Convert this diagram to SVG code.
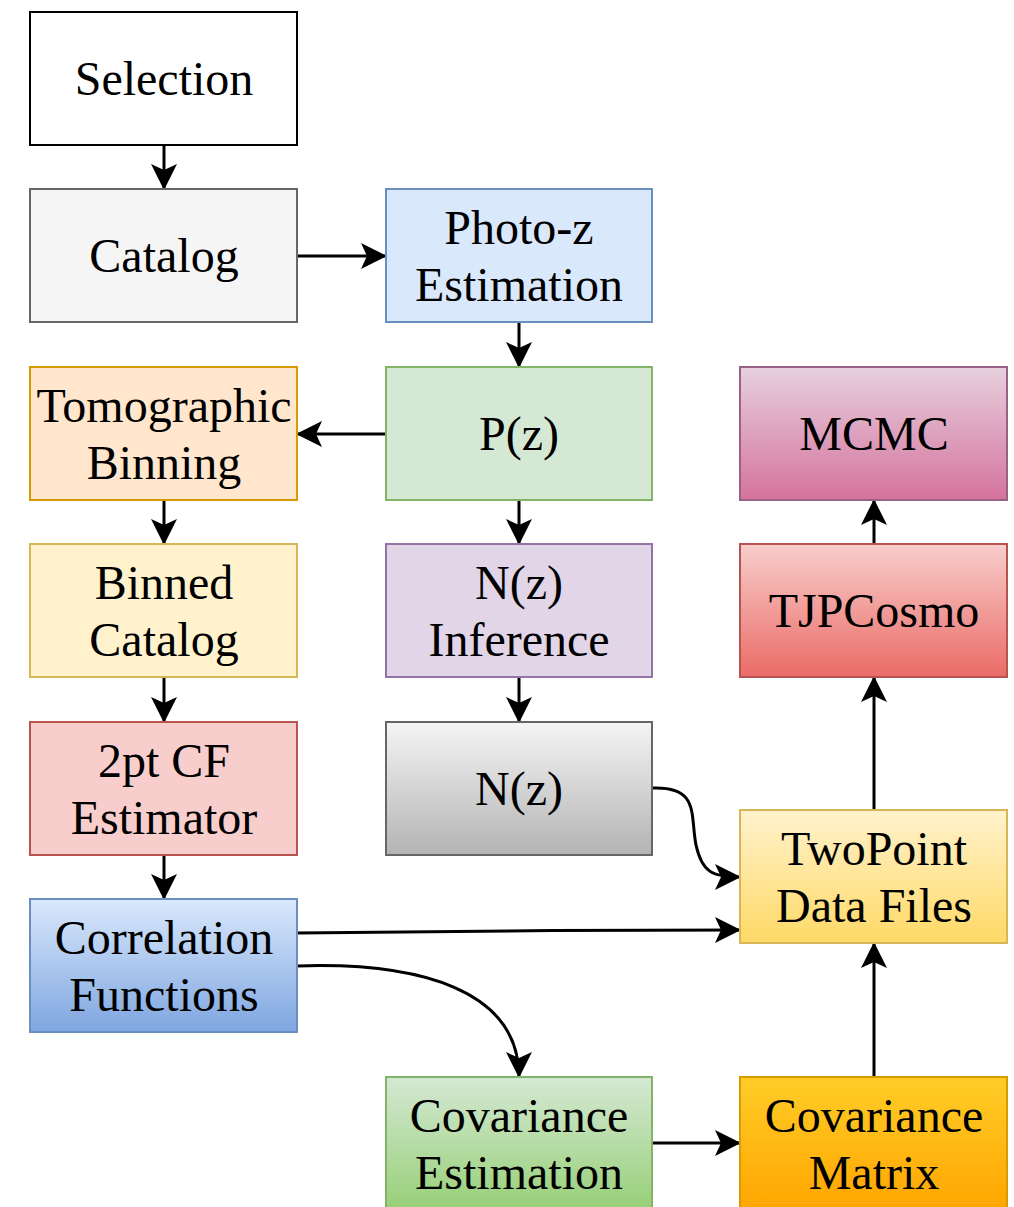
<svg xmlns="http://www.w3.org/2000/svg" width="1014" height="1207" viewBox="0 0 1014 1207">
<style>
  .n rect { stroke-width: 2; }
  .n text { font-family: "Liberation Serif", "Times New Roman", serif; font-size: 48px; fill: #000; text-anchor: middle; }
  .c path { fill: none; stroke: #000; stroke-width: 3; marker-end: url(#arr); }
</style>
<defs>
  <marker id="arr" markerUnits="userSpaceOnUse" markerWidth="26" markerHeight="28" refX="25" refY="14" orient="auto" overflow="visible">
    <path d="M0,1 L26,14 L0,27 L6,14 z" fill="#000"/>
  </marker>
  <linearGradient id="gGrey" x1="0" y1="0" x2="0" y2="1"><stop offset="0" stop-color="#f5f5f5"/><stop offset="1" stop-color="#b3b3b3"/></linearGradient>
  <linearGradient id="gBlue" x1="0" y1="0" x2="0" y2="1"><stop offset="0" stop-color="#dae8fc"/><stop offset="1" stop-color="#7ea6e0"/></linearGradient>
  <linearGradient id="gGreen" x1="0" y1="0" x2="0" y2="1"><stop offset="0" stop-color="#d5e8d4"/><stop offset="1" stop-color="#97d077"/></linearGradient>
  <linearGradient id="gOrange" x1="0" y1="0" x2="0" y2="1"><stop offset="0" stop-color="#ffcd28"/><stop offset="1" stop-color="#ffa500"/></linearGradient>
  <linearGradient id="gYellow" x1="0" y1="0" x2="0" y2="1"><stop offset="0" stop-color="#fff2cc"/><stop offset="1" stop-color="#ffd966"/></linearGradient>
  <linearGradient id="gRed" x1="0" y1="0" x2="0" y2="1"><stop offset="0" stop-color="#f8cecc"/><stop offset="1" stop-color="#ea6b66"/></linearGradient>
  <linearGradient id="gPink" x1="0" y1="0" x2="0" y2="1"><stop offset="0" stop-color="#e6d0de"/><stop offset="1" stop-color="#d5739d"/></linearGradient>
</defs>
<rect width="1014" height="1207" fill="#fff"/>

<g class="c" id="connectors">
  <path d="M164,145 L164,189"/>
  <path d="M297,256 L386,256"/>
  <path d="M519,322 L519,367"/>
  <path d="M386,434 L297,434"/>
  <path d="M164,500 L164,544"/>
  <path d="M519,500 L519,544"/>
  <path d="M164,677 L164,722"/>
  <path d="M519,677 L519,722"/>
  <path d="M164,855 L164,899"/>
  <path d="M652,788 C700,786 690,815 696,845 C702,872 712,877 740,877"/>
  <path d="M297,933 C420,931 600,930 740,930"/>
  <path d="M297,966 C420,962 519,990 519,1077"/>
  <path d="M652,1143 L740,1143"/>
  <path d="M874,1077 L874,943"/>
  <path d="M874,810 L874,677"/>
  <path d="M874,544 L874,500"/>
</g>

<g class="n" id="selection"><rect x="30" y="12" width="267" height="133" fill="#ffffff" stroke="#000000"/><text x="164" y="95">Selection</text></g>
<g class="n" id="catalog"><rect x="30" y="189" width="267" height="133" fill="#f5f5f5" stroke="#666666"/><text x="164" y="272">Catalog</text></g>
<g class="n" id="photoz"><rect x="386" y="189" width="266" height="133" fill="#dae8fc" stroke="#6c8ebf"/><text x="519" y="244">Photo-z</text><text x="519" y="301">Estimation</text></g>
<g class="n" id="tomographic"><rect x="30" y="367" width="267" height="133" fill="#ffe6cc" stroke="#d79b00"/><text x="164" y="422">Tomographic</text><text x="164" y="479">Binning</text></g>
<g class="n" id="pz"><rect x="386" y="367" width="266" height="133" fill="#d5e8d4" stroke="#82b366"/><text x="519" y="450">P(z)</text></g>
<g class="n" id="mcmc"><rect x="740" y="367" width="267" height="133" fill="url(#gPink)" stroke="#996185"/><text x="874" y="450">MCMC</text></g>
<g class="n" id="binned"><rect x="30" y="544" width="267" height="133" fill="#fff2cc" stroke="#d6b656"/><text x="164" y="599">Binned</text><text x="164" y="656">Catalog</text></g>
<g class="n" id="nzinf"><rect x="386" y="544" width="266" height="133" fill="#e1d5e7" stroke="#9673a6"/><text x="519" y="599">N(z)</text><text x="519" y="656">Inference</text></g>
<g class="n" id="tjpcosmo"><rect x="740" y="544" width="267" height="133" fill="url(#gRed)" stroke="#b85450"/><text x="874" y="627">TJPCosmo</text></g>
<g class="n" id="twopt"><rect x="30" y="722" width="267" height="133" fill="#f8cecc" stroke="#b85450"/><text x="164" y="777">2pt CF</text><text x="164" y="834">Estimator</text></g>
<g class="n" id="nz"><rect x="386" y="722" width="266" height="133" fill="url(#gGrey)" stroke="#666666"/><text x="519" y="805">N(z)</text></g>
<g class="n" id="twopoint"><rect x="740" y="810" width="267" height="133" fill="url(#gYellow)" stroke="#d6b656"/><text x="874" y="865">TwoPoint</text><text x="874" y="922">Data Files</text></g>
<g class="n" id="corr"><rect x="30" y="899" width="267" height="133" fill="url(#gBlue)" stroke="#6c8ebf"/><text x="164" y="954">Correlation</text><text x="164" y="1011">Functions</text></g>
<g class="n" id="covest"><rect x="386" y="1077" width="266" height="133" fill="url(#gGreen)" stroke="#82b366"/><text x="519" y="1132">Covariance</text><text x="519" y="1189">Estimation</text></g>
<g class="n" id="covmat"><rect x="740" y="1077" width="267" height="133" fill="url(#gOrange)" stroke="#d79b00"/><text x="874" y="1132">Covariance</text><text x="874" y="1189">Matrix</text></g>
</svg>
